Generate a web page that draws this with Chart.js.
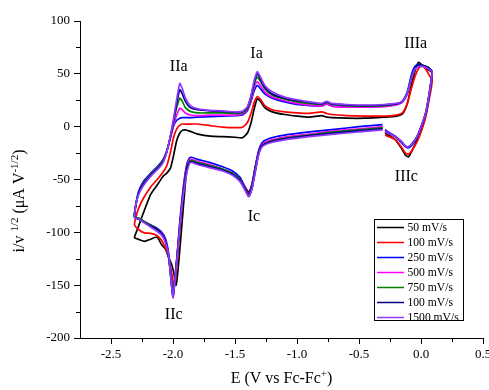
<!DOCTYPE html>
<html><head><meta charset="utf-8">
<script src="https://cdn.jsdelivr.net/npm/chart.js@4.4.1/dist/chart.umd.min.js"></script>
<style>html,body{margin:0;padding:0;background:#fff;} canvas{display:block;}</style>
</head><body>
<canvas id="c" width="489" height="390"></canvas>
<script>
// Scan path (V vs Fc/Fc+): cathodic sweep from -0.31 V to -2.31 V, anodic sweep to +0.09 V, return to -0.29 V
const potential = [
 -0.31,-0.5,-0.7,-0.9,-1.1,-1.22,-1.28,-1.31,-1.34,-1.365,-1.39,-1.42,-1.46,-1.52,-1.6,-1.7,-1.8,-1.86,-1.885,-1.905,-1.925,-1.945,-1.96,-1.975,-1.99,-2.0,-2.015,-2.035,-2.06,-2.09,-2.13,-2.18,-2.23,-2.27,-2.31,
 -2.30,-2.28,-2.24,-2.18,-2.12,-2.08,-2.05,-2.02,-1.995,-1.97,-1.945,-1.925,-1.90,-1.86,-1.8,-1.7,-1.6,-1.5,-1.44,-1.40,-1.37,-1.345,-1.32,-1.295,-1.26,-1.2,-1.1,-1.0,-0.9,-0.8,-0.76,-0.72,-0.6,-0.45,-0.3,-0.2,-0.15,-0.11,-0.08,-0.05,-0.02,0.01,0.04,0.07,0.09,
 0.085,0.065,0.04,0.01,-0.03,-0.07,-0.1,-0.125,-0.16,-0.21,-0.29
];
const cv50 = [
 -1.5,-3.5,-6,-8,-11,-14,-17,-24,-40,-55,-62,-57,-50,-45,-41,-38,-35,-33,-38,-60,-88,-116,-136,-150,-141,-135,-129,-124,-116,-112,-104.5,-106.5,-108.5,-107,-105,
 -101,-95,-82,-64,-54,-47,-44,-39,-27,-13,-6,-3.5,-3,-4.5,-7,-9,-9.5,-10,-10.5,-6,4,17,26.5,24,18,14,11.5,10,9,10.5,9,8.5,8,8,9,10,12,22,38,52,61,58,55,53,51,
 44,28,12,0,-12,-22,-28.5,-27,-20,-12,-6
];
const cv100 = [
 -1,-3,-5.5,-7.5,-10,-13.5,-17,-25,-42,-57,-64,-58,-50,-45,-41,-37.5,-34,-32,-36,-50,-70,-98,-120,-140,-151,-146,-136,-123,-115,-108,-103,-101,-100.5,-98,-93,
 -86,-78,-68,-57,-49,-43,-37,-24,-10,-2,1.5,2.5,2.5,2.5,2.5,1,-0.5,-1,-0.5,4,13,23,28.5,26,20,16,14,13,12.5,14,12.5,11.5,10.5,10,10,11,13,22,35,47,55,58,54,48,45,
 38,25,10,-2,-14,-22,-26,-25,-19,-12,-8
];
const cv250 = [
 2,0,-2.5,-5,-8,-11,-15,-23,-41,-57,-65,-57,-48,-42,-38,-34,-31,-29,-34,-47,-66,-90,-112,-132,-150,-159,-142,-120,-106,-100,-96,-93,-90,-87,-85,
 -75,-62,-52,-44,-37,-31,-23,-10,1,6,8,8.5,8.5,8.5,9,9.5,10,10.5,11,15,24,34,39,36,31,27,23.5,21,20,19.5,21.5,19.5,19,19,19.5,21,24,33,48,57,59,58,57,55,52,
 45,29,13,2,-10,-17,-20,-19,-15,-9,-3
];
const cv500 = [
 0,-2,-4,-7,-10,-13,-17,-25,-43,-58,-66,-58,-50,-44,-40,-36,-33,-31,-36,-48,-68,-93,-113,-133,-151,-160,-144,-122,-108,-101,-97,-93,-90,-87,-85,
 -74,-64,-54,-45,-38,-32,-23,-10,2,11,17.5,16,13,11,10.5,11,11,11,12,16,25,37,42.5,39,33,28,24.5,22,20.5,19.5,21.5,19.5,18.5,18.5,19,20.5,23,31,45,54,57,57,56,54,52,
 46,30,14,3,-9,-16,-19,-18.5,-14,-9,-4
];
const cv750 = [
 -1,-3,-5,-8,-11,-14,-18,-26,-44,-59,-66,-59,-50,-44,-40,-37,-34,-32,-37,-50,-70,-94,-114,-134,-152,-161,-145,-123,-109,-102,-97,-93,-90,-87,-85,
 -74,-64,-54,-45,-38,-32,-23,-9,5,18,27,24,18,14.5,13,13,13,12.5,13,17,27,40,47,43,36,30,26,23.5,22,21,23,21,20,19.5,20,21.5,24,32,45,54,58,58,57,55,52,
 46,30,14,3,-9,-16,-19,-18.5,-14,-9,-5
];
const cv1000 = [
 -2,-4,-6,-8.5,-11.5,-14.5,-18,-26,-44,-59,-66,-59,-51,-45,-41,-38,-35,-33,-38,-52,-71,-94,-114,-134,-152,-161,-146,-123,-109,-102,-97,-94,-91,-88,-86,
 -74,-64,-55,-46,-39,-33,-24,-9,6,22,35,31,24,18,16,15,14.5,13.5,14,18,29,42,50,45,37,31,27,24.5,23,21.5,23.5,21.5,20.5,20,20.5,21.5,24,32,45,54,58,58,57,55,52,
 46,30,14,3,-9,-16,-19,-18.5,-14,-9,-5
];
const cv1500 = [
 -3,-5,-7,-9.5,-12.5,-15.5,-19,-27,-45,-60,-66,-60,-52,-46,-42,-39,-36,-34,-42,-55,-72,-95,-115,-135,-152,-162,-146,-122,-110,-103,-99,-95,-91,-88,-86,
 -74,-65,-56,-47,-40,-34,-24,-8,8,26,41,36,27,20,17,15.5,15,14,14.5,19,30,44,52,47,39,33,28,25.5,23.5,22,24,22,21,20.5,21,22,24,32,45,54,57,57,56,54,52,
 46,30,14,3,-9,-16,-19,-18.5,-14,-9,-5
];
const seriesValues = [cv50, cv100, cv250, cv500, cv750, cv1000, cv1500];
const seriesLabels = ['50 mV/s','100 mV/s','250 mV/s','500 mV/s','750 mV/s','100 mV/s','1500 mV/s'];
const seriesColors = ['#000000','#ff0000','#0000ff','#ff00ff','#008000','#000080','#9038ff'];
const xTickValues = [-2.5,-2.0,-1.5,-1.0,-0.5,0.0,0.5];
const xMinorTickValues = [-2.25,-1.75,-1.25,-0.75,-0.25,0.25];
const yTickValues = [-200,-150,-100,-50,0,50,100];
const yMinorTickValues = [-175,-125,-75,-25,25,75];
const peakLabels = [
 {text:'IIa', x:-1.954, y:57}, {text:'Ia', x:-1.326, y:68.5}, {text:'IIIa', x:-0.043, y:78},
 {text:'IIIc', x:-0.118, y:-47.7}, {text:'Ic', x:-1.347, y:-85}, {text:'IIc', x:-1.994, y:-177.6}
];

const SERIF = '"Liberation Serif", "Times New Roman", serif';

function drawRich(ctx, pieces, cx, cy, rotate) {
  ctx.save();
  ctx.translate(cx, cy);
  if (rotate) ctx.rotate(-Math.PI/2);
  let total = 0;
  pieces.forEach(p => { ctx.font = (p.sup ? '11px ' : '16px ') + SERIF; p.w = ctx.measureText(p.t).width; total += p.w; });
  let xpos = -total/2;
  ctx.textBaseline = 'alphabetic';
  ctx.textAlign = 'left';
  ctx.fillStyle = '#000';
  pieces.forEach(p => {
    ctx.font = (p.sup ? '11px ' : '16px ') + SERIF;
    ctx.fillText(p.t, xpos, p.sup ? -1 : 5);
    xpos += p.w;
  });
  ctx.restore();
}

const overlay = {
  id: 'overlay',
  afterDraw(chart) {
    const {ctx, chartArea, scales} = chart;
    const x = scales.x, y = scales.y;
    ctx.save();
    ctx.strokeStyle = '#000';
    ctx.lineWidth = 1;
    xMinorTickValues.forEach(v => {
      const px = Math.round(x.getPixelForValue(v)) + 0.5;
      ctx.beginPath(); ctx.moveTo(px, chartArea.bottom); ctx.lineTo(px, chartArea.bottom + 4); ctx.stroke();
    });
    yMinorTickValues.forEach(v => {
      const py = Math.round(y.getPixelForValue(v)) + 0.5;
      ctx.beginPath(); ctx.moveTo(chartArea.left, py); ctx.lineTo(chartArea.left - 4, py); ctx.stroke();
    });
    // peak labels
    ctx.fillStyle = '#000';
    ctx.font = '16px ' + SERIF;
    ctx.textAlign = 'center';
    ctx.textBaseline = 'middle';
    peakLabels.forEach(l => ctx.fillText(l.text, x.getPixelForValue(l.x), y.getPixelForValue(l.y)));
    // legend
    const lx = 374.5, ly = 219.5, lw = 89, lh = 101;
    ctx.fillStyle = '#fff';
    ctx.fillRect(lx, ly, lw, lh);
    ctx.strokeStyle = '#000';
    ctx.lineWidth = 1;
    ctx.strokeRect(lx, ly, lw, lh);
    ctx.font = '11.6px ' + SERIF;
    ctx.textAlign = 'left';
    ctx.textBaseline = 'middle';
    seriesLabels.forEach((lab, i) => {
      const ry = 227.5 + 15 * i;
      ctx.strokeStyle = seriesColors[i];
      ctx.lineWidth = 1.5;
      ctx.beginPath(); ctx.moveTo(377, ry); ctx.lineTo(404, ry); ctx.stroke();
      ctx.fillStyle = '#000';
      ctx.fillText(lab, 407.5, ry + 0.5);
    });
    // axis titles
    drawRich(ctx, [{t:'E (V vs Fc-Fc'},{t:'+',sup:true},{t:')'}], (chartArea.left + chartArea.right)/2, 378, false);
    drawRich(ctx, [{t:'i/v '},{t:'1/2',sup:true},{t:' (μA V'},{t:'-1/2',sup:true},{t:')'}], 19, 201, true);
    ctx.restore();
  }
};

const datasets = seriesValues.map((vals, i) => ({
  label: seriesLabels[i],
  data: potential.map((e, k) => ({x: e, y: vals[k]})),
  borderColor: seriesColors[i],
  backgroundColor: seriesColors[i],
  borderWidth: 1.7,
  showLine: true,
  pointRadius: 0,
  tension: 0.2,
  order: seriesValues.length - 1 - i
}));

new Chart(document.getElementById('c'), {
  type: 'scatter',
  data: { datasets },
  options: {
    responsive: false,
    animation: false,
    devicePixelRatio: 1,
    layout: { padding: { left: 0, right: 6, top: 21, bottom: 0 } },
    plugins: { legend: { display: false }, tooltip: { enabled: false } },
    scales: {
      x: {
        type: 'linear', min: -2.75, max: 0.5,
        afterBuildTicks: s => { s.ticks = xTickValues.map(v => ({value: v})); },
        afterFit: s => { s.height = 52; s.paddingLeft = 0; s.paddingRight = 0; },
        ticks: { callback: v => Number(v).toFixed(1), color: '#000', font: { family: SERIF, size: 13 }, padding: 3, maxRotation: 0, autoSkip: false },
        grid: { drawOnChartArea: false, drawTicks: true, tickLength: 6, color: '#000', tickColor: '#000', tickWidth: 1 },
        border: { display: true, color: '#000', width: 1 }
      },
      y: {
        type: 'linear', min: -200, max: 100,
        afterBuildTicks: s => { s.ticks = yTickValues.map(v => ({value: v})); },
        afterFit: s => { s.width = 80; s.paddingTop = 0; s.paddingBottom = 0; },
        ticks: { callback: v => String(v), color: '#000', font: { family: SERIF, size: 13 }, padding: 4, autoSkip: false },
        grid: { drawOnChartArea: false, drawTicks: true, tickLength: 6, color: '#000', tickColor: '#000', tickWidth: 1 },
        border: { display: true, color: '#000', width: 1 }
      }
    }
  },
  plugins: [overlay]
});
</script>
</body></html>
